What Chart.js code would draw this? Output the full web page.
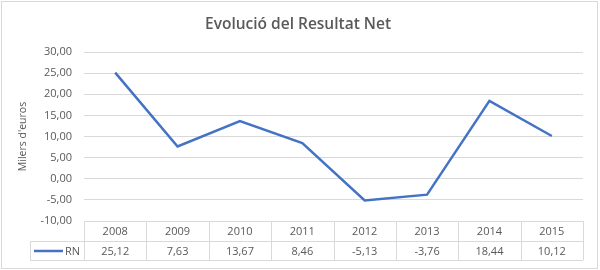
<!DOCTYPE html>
<html>
<head>
<meta charset="utf-8">
<script src="https://cdn.jsdelivr.net/npm/chart.js@4.4.1/dist/chart.umd.min.js"></script>
<style>
html,body{margin:0;padding:0;background:#fff;}
#wrap{width:600px;height:270px;position:relative;}
</style>
</head>
<body>
<div id="wrap"><canvas id="resultChart" width="600" height="270"></canvas></div>
<script>
const years=['2008','2009','2010','2011','2012','2013','2014','2015'];
const rn=[25.12,7.63,13.67,8.46,-5.13,-3.76,18.44,10.12];
const seriesName='RN';
const chartTitle='Evolució del Resultat Net';
const axisTitle="Milers d'euros";

const grey='#595959';
const lineGrey='#d9d9d9';
const blue='#4472C4';

function fmt(v){
return v.toFixed(2).replace('.',',');
}

// title, outer frame and the data table under the plot
const tablePlugin={
id:'tablePlugin',
afterDraw(chart){
const ctx=chart.ctx;
const area=chart.chartArea;
const x=chart.scales.x;
const n=years.length;
const colW=(area.right-area.left)/n;
const r0=area.bottom, r1=r0+20, r2=r1+19;
const legendLeft=30;

ctx.save();
// frame
ctx.strokeStyle=lineGrey;
ctx.lineWidth=1;
ctx.strokeRect(1.5,1.5,596,267);

// title
ctx.fillStyle=grey;
ctx.font='600 15.5px "Open Sans"';
ctx.textAlign='center';
ctx.textBaseline='alphabetic';
ctx.fillText(chartTitle,298,29);

// table grid
ctx.beginPath();
ctx.moveTo(area.left,r0+0.5);ctx.lineTo(area.right,r0+0.5);
ctx.moveTo(legendLeft,r1+0.5);ctx.lineTo(area.right,r1+0.5);
ctx.moveTo(legendLeft,r2+0.5);ctx.lineTo(area.right,r2+0.5);
ctx.moveTo(legendLeft+0.5,r1);ctx.lineTo(legendLeft+0.5,r2);
for(let i=0;i<=n;i++){
const cx=Math.round(area.left+i*colW)+0.5;
ctx.moveTo(cx,r0);ctx.lineTo(cx,r2);
}
ctx.stroke();

// table text
ctx.font='11px "Open Sans"';
ctx.textBaseline='middle';
ctx.fillStyle=grey;
years.forEach((y,i)=>{
const cx=x.getPixelForValue(i);
ctx.fillText(y,cx,(r0+r1)/2+1);
ctx.fillText(fmt(rn[i]),cx,(r1+r2)/2+1);
});

// legend key
ctx.strokeStyle=blue;
ctx.lineWidth=2.5;
ctx.beginPath();
ctx.moveTo(34,(r1+r2)/2+0.5);ctx.lineTo(63,(r1+r2)/2+0.5);
ctx.stroke();
ctx.textAlign='left';
ctx.fillText(seriesName,65,(r1+r2)/2+1);
ctx.restore();
}
};

new Chart(
document.getElementById('resultChart'),
{
type:'line',
data:{
labels:years,
datasets:[{
label:seriesName,
data:rn,
borderColor:blue,
borderWidth:2.5,
pointRadius:0,
tension:0,
fill:false
}]
},
options:{
responsive:false,
animation:false,
layout:{padding:{top:52,left:0,right:17,bottom:49}},
plugins:{
legend:{display:false},
tooltip:{enabled:false}
},
scales:{
x:{
display:false,
offset:true
},
y:{
min:-10,
max:30,
afterFit(scale){scale.width=84;},
border:{display:false},
grid:{color:lineGrey,drawTicks:false,lineWidth:1},
ticks:{
stepSize:5,
padding:12,
color:grey,
font:{family:'"Open Sans"',size:11},
callback:v=>fmt(v)
},
title:{
display:true,
text:axisTitle,
color:grey,
font:{family:'"Open Sans"',size:10.5},
padding:{top:17,bottom:0}
}
}
}
},
plugins:[tablePlugin]
}
);
</script>
</body>
</html>
